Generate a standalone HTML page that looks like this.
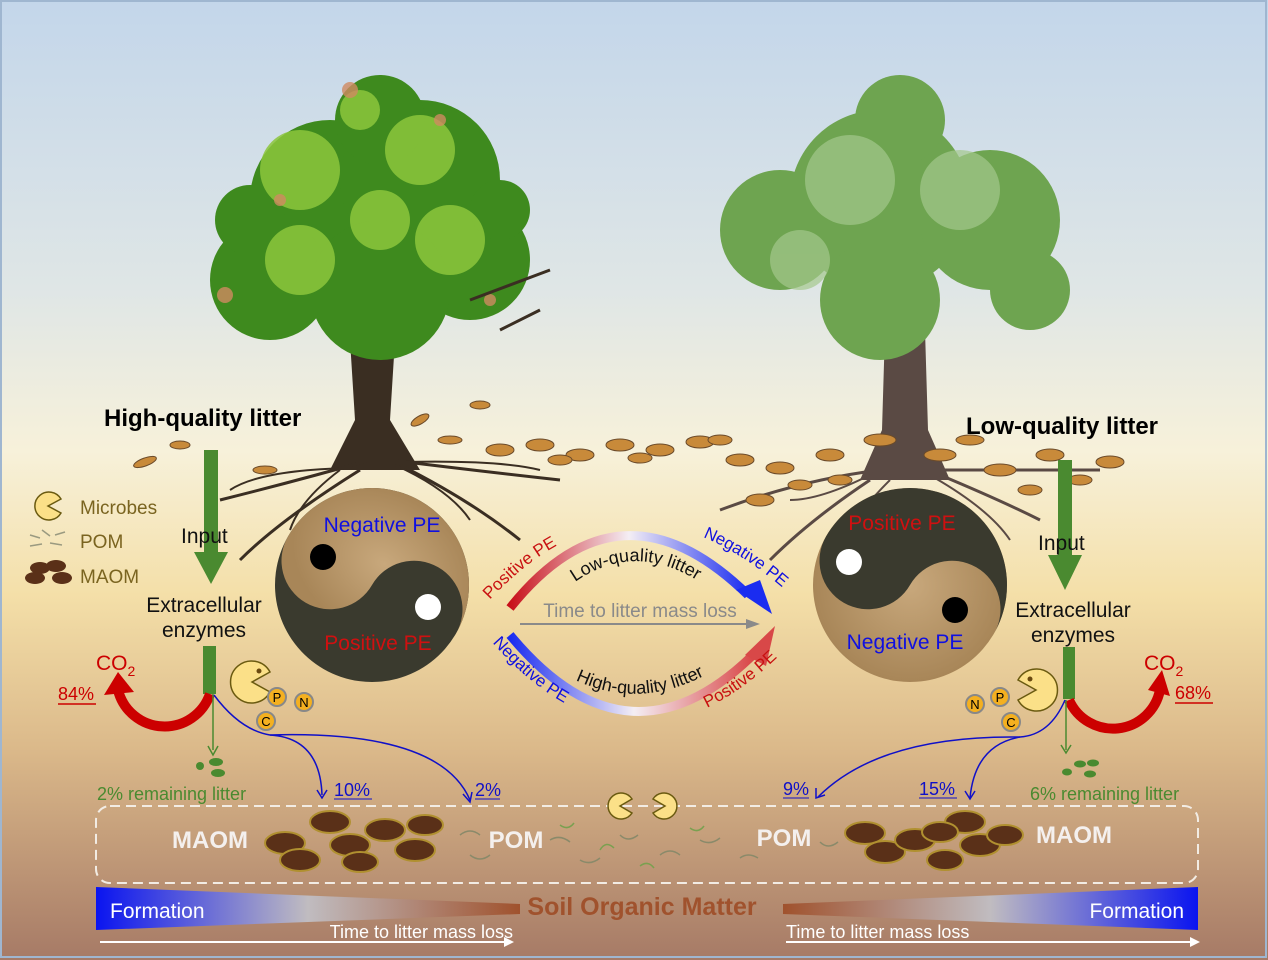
<!DOCTYPE html>
<html><head><meta charset="utf-8"><style>
html,body{margin:0;padding:0;background:#fff}
svg{display:block}
text{font-family:"Liberation Sans",sans-serif}
</style></head><body>
<svg width="1268" height="960" viewBox="0 0 1268 960" xmlns="http://www.w3.org/2000/svg">
<defs>
<linearGradient id="bg" x1="0" y1="0" x2="0" y2="1">
<stop offset="0" stop-color="#c3d6ea"/>
<stop offset="0.3" stop-color="#dfe6e6"/>
<stop offset="0.47" stop-color="#f7f1da"/>
<stop offset="0.62" stop-color="#f4dfa8"/>
<stop offset="0.78" stop-color="#dbb98a"/>
<stop offset="1" stop-color="#a67a66"/>
</linearGradient>
<linearGradient id="wl" x1="0" x2="1"><stop offset="0" stop-color="#0a14f0"/><stop offset="0.5" stop-color="#c0bcc0"/><stop offset="1" stop-color="#a0522d"/></linearGradient>
<linearGradient id="wr" x1="1" x2="0"><stop offset="0" stop-color="#0a14f0"/><stop offset="0.5" stop-color="#c0bcc0"/><stop offset="1" stop-color="#a0522d"/></linearGradient>
<linearGradient id="arcT" x1="0" x2="1"><stop offset="0" stop-color="#c8101a"/><stop offset="0.5" stop-color="#f4eef4"/><stop offset="1" stop-color="#1a2cf0"/></linearGradient>
<linearGradient id="arcB" x1="0" x2="1"><stop offset="0" stop-color="#1a2cf0"/><stop offset="0.5" stop-color="#f4eef4"/><stop offset="1" stop-color="#d84040"/></linearGradient>
<radialGradient id="tan"><stop offset="0" stop-color="#c8a87c"/><stop offset="1" stop-color="#a88658"/></radialGradient>
<path id="tOut" d="M485 605 Q625 450 785 590"/>
<path id="tIn" d="M535 620 Q630 505 740 615"/>
<path id="bOut" d="M490 640 Q630 800 780 655"/>
<path id="bIn" d="M530 650 Q635 740 750 645"/>
</defs>
<rect width="1268" height="960" fill="url(#bg)"/>
<rect x="1" y="1" width="1265" height="956" fill="none" stroke="#9fb6d0" stroke-width="2"/>

<!-- LEFT TREE -->
<g>
<path d="M350 340 L395 340 L390 420 L420 470 L330 470 L355 420 Z" fill="#3a2e22"/>
<g fill="#3e8a1e">
<circle cx="330" cy="200" r="80"/><circle cx="420" cy="180" r="80"/><circle cx="380" cy="120" r="45"/>
<circle cx="270" cy="280" r="60"/><circle cx="470" cy="260" r="60"/><circle cx="380" cy="290" r="70"/>
<circle cx="250" cy="220" r="35"/><circle cx="500" cy="210" r="30"/>
</g>
<g fill="#8cc63c" opacity="0.85">
<circle cx="300" cy="170" r="40"/><circle cx="420" cy="150" r="35"/><circle cx="450" cy="240" r="35"/>
<circle cx="300" cy="260" r="35"/><circle cx="380" cy="220" r="30"/><circle cx="360" cy="110" r="20"/>
</g>
<g fill="#d08a60" opacity="0.8">
<circle cx="350" cy="90" r="8"/><circle cx="225" cy="295" r="8"/><circle cx="440" cy="120" r="6"/><circle cx="490" cy="300" r="6"/><circle cx="280" cy="200" r="6"/>
</g>
<g stroke="#3a2e22" stroke-width="3" fill="none">
<path d="M470 300 L550 270"/><path d="M500 330 L540 310"/>
<path d="M370 460 Q300 480 220 500 M360 470 Q280 520 240 560 M390 460 Q470 470 560 480 M400 465 Q470 500 520 540"/>
<path d="M340 470 Q300 500 290 530 M350 468 Q260 470 230 490 M395 465 Q450 490 470 520 M405 462 Q500 460 540 470" stroke-width="2"/>
</g>
</g>

<!-- RIGHT TREE -->
<g>
<path d="M885 330 L925 330 L928 430 L950 480 L860 480 L882 430 Z" fill="#5a4a44"/>
<g fill="#6ea450">
<circle cx="880" cy="200" r="90"/><circle cx="780" cy="230" r="60"/><circle cx="990" cy="220" r="70"/>
<circle cx="900" cy="120" r="45"/><circle cx="880" cy="300" r="60"/><circle cx="1030" cy="290" r="40"/>
</g>
<g fill="#a4c88c" opacity="0.7">
<circle cx="850" cy="180" r="45"/><circle cx="960" cy="190" r="40"/><circle cx="800" cy="260" r="30"/>
</g>
<g stroke="#5a4a44" stroke-width="3" fill="none">
<path d="M880 470 Q800 480 720 510 M870 480 Q810 520 770 560 M930 470 Q1010 470 1100 470 M940 475 Q1000 500 1040 520"/>
<path d="M870 475 Q820 500 790 500 M935 478 Q990 510 1010 540 M890 480 Q860 510 850 530" stroke-width="2"/>
</g>
</g>

<!-- ground leaves -->
<g fill="#c88a3a" stroke="#6a4a2a" stroke-width="1">
<ellipse cx="420" cy="420" rx="10" ry="4" transform="rotate(-30 420 420)"/><ellipse cx="450" cy="440" rx="12" ry="4"/><ellipse cx="480" cy="405" rx="10" ry="4"/>
<ellipse cx="145" cy="462" rx="12" ry="4" transform="rotate(-20 145 462)"/><ellipse cx="180" cy="445" rx="10" ry="4"/><ellipse cx="265" cy="470" rx="12" ry="4"/>
<ellipse cx="500" cy="450" rx="14" ry="6"/><ellipse cx="540" cy="445" rx="14" ry="6"/><ellipse cx="580" cy="455" rx="14" ry="6"/>
<ellipse cx="620" cy="445" rx="14" ry="6"/><ellipse cx="660" cy="450" rx="14" ry="6"/><ellipse cx="700" cy="442" rx="14" ry="6"/>
<ellipse cx="740" cy="460" rx="14" ry="6"/><ellipse cx="780" cy="468" rx="14" ry="6"/><ellipse cx="830" cy="455" rx="14" ry="6"/>
<ellipse cx="880" cy="440" rx="16" ry="6"/><ellipse cx="940" cy="455" rx="16" ry="6"/><ellipse cx="1000" cy="470" rx="16" ry="6"/>
<ellipse cx="1050" cy="455" rx="14" ry="6"/><ellipse cx="1110" cy="462" rx="14" ry="6"/><ellipse cx="760" cy="500" rx="14" ry="6"/>
<ellipse cx="560" cy="460" rx="12" ry="5"/><ellipse cx="640" cy="458" rx="12" ry="5"/><ellipse cx="720" cy="440" rx="12" ry="5"/><ellipse cx="800" cy="485" rx="12" ry="5"/>
<ellipse cx="970" cy="440" rx="14" ry="5"/><ellipse cx="1080" cy="480" rx="12" ry="5"/><ellipse cx="1030" cy="490" rx="12" ry="5"/><ellipse cx="840" cy="480" rx="12" ry="5"/>
</g>

<!-- yin yang left -->
<g transform="rotate(30 372 585)">
<circle cx="372" cy="585" r="97" fill="#3a3a2e"/>
<path d="M275 585 A97 97 0 0 1 469 585 A48.5 48.5 0 0 0 372 585 A48.5 48.5 0 0 1 275 585 Z" fill="url(#tan)"/>
</g>
<circle cx="323" cy="557" r="13" fill="#000"/>
<circle cx="428" cy="607" r="13" fill="#fff"/>
<text x="382" y="532" font-size="21" fill="#1010e0" text-anchor="middle">Negative PE</text>
<text x="378" y="650" font-size="21" fill="#d01010" text-anchor="middle">Positive PE</text>

<!-- yin yang right -->
<g transform="rotate(30 910 585)">
<circle cx="910" cy="585" r="97" fill="url(#tan)"/>
<path d="M813 585 A97 97 0 0 1 1007 585 A48.5 48.5 0 0 0 910 585 A48.5 48.5 0 0 1 813 585 Z" fill="#3a3a2e"/>
</g>
<circle cx="849" cy="562" r="13" fill="#fff"/>
<circle cx="955" cy="610" r="13" fill="#000"/>
<text x="902" y="530" font-size="21" fill="#d01010" text-anchor="middle">Positive PE</text>
<text x="905" y="649" font-size="21" fill="#1010e0" text-anchor="middle">Negative PE</text>

<!-- central arcs -->
<path d="M510 608 Q620 470 748 595" stroke="url(#arcT)" stroke-width="9" fill="none"/>
<path d="M736 590 L772 614 L760 580 Z" fill="#1a2cf0"/>
<path d="M510 635 Q630 780 758 650" stroke="url(#arcB)" stroke-width="9" fill="none"/>
<path d="M745 655 L775 626 L766 666 Z" fill="#d84848"/>
<line x1="520" y1="624" x2="752" y2="624" stroke="#8a8a8a" stroke-width="2"/>
<path d="M746 619 L760 624 L746 629 Z" fill="#8a8a8a"/>
<text x="640" y="617" font-size="19" fill="#8a8a8a" text-anchor="middle">Time to litter mass loss</text>
<text font-size="18" fill="#111"><textPath href="#tIn" startOffset="50%" text-anchor="middle">Low-quality  litter</textPath></text>
<text font-size="18" fill="#111"><textPath href="#bIn" startOffset="50%" text-anchor="middle">High-quality litter</textPath></text>
<text font-size="17" fill="#c81010"><textPath href="#tOut" startOffset="2%">Positive PE</textPath></text>
<text font-size="17" fill="#1010e0"><textPath href="#tOut" startOffset="99%" text-anchor="end">Negative PE</textPath></text>
<text font-size="17" fill="#1010e0"><textPath href="#bOut" startOffset="1%">Negative PE</textPath></text>
<text font-size="17" fill="#c81010"><textPath href="#bOut" startOffset="99%" text-anchor="end">Positive PE</textPath></text>

<!-- left labels -->
<text x="104" y="426" font-size="24" font-weight="bold" fill="#000">High-quality litter</text>
<rect x="204" y="450" width="14" height="110" fill="#4a8a30"/>
<path d="M194 552 L228 552 L211 584 Z" fill="#4a8a30"/>
<text x="181" y="543" font-size="21" fill="#111">Input</text>
<text x="204" y="612" font-size="21" fill="#111" text-anchor="middle">Extracellular</text>
<text x="204" y="637" font-size="21" fill="#111" text-anchor="middle">enzymes</text>
<rect x="203" y="646" width="13" height="48" fill="#4a8a30"/>
<path d="M210 694 A48 48 0 0 1 118 690" stroke="#c00" stroke-width="10" fill="none"/>
<path d="M104 695 L118 672 L134 692 Z" fill="#c00"/>
<text x="96" y="670" font-size="21" fill="#c00">CO<tspan font-size="14" dy="6">2</tspan></text>
<text x="58" y="700" font-size="18" fill="#c00">84%</text>
<line x1="58" y1="704" x2="96" y2="704" stroke="#c00" stroke-width="1.5"/>
<line x1="213" y1="694" x2="213" y2="750" stroke="#4a8a30" stroke-width="1.5"/>
<path d="M208 746 L213 755 L218 746" stroke="#4a8a30" fill="none" stroke-width="1.5"/>
<ellipse cx="200" cy="766" rx="4" ry="4" fill="#4a8a30"/><ellipse cx="216" cy="762" rx="7" ry="4" fill="#4a8a30"/><ellipse cx="218" cy="773" rx="7" ry="4" fill="#4a8a30"/>
<text x="97" y="800" font-size="18" fill="#4a8a30">2% remaining litter</text>
<path d="M214 695 Q240 730 270 735 Q320 738 322 795" stroke="#1010c8" stroke-width="1.5" fill="none"/>
<path d="M270 735 Q440 730 470 800" stroke="#1010c8" stroke-width="1.5" fill="none"/>
<path d="M317 790 L322 798 L327 790" stroke="#1010c8" fill="none" stroke-width="1.5"/>
<path d="M463 794 L470 802 L472 792" stroke="#1010c8" fill="none" stroke-width="1.5"/>
<text x="334" y="796" font-size="18" fill="#1010c8">10%</text>
<line x1="334" y1="799" x2="372" y2="799" stroke="#1010c8"/>
<text x="475" y="796" font-size="18" fill="#1010c8">2%</text>
<line x1="475" y1="799" x2="500" y2="799" stroke="#1010c8"/>

<!-- pacman left -->
<path d="M252 682 L270 672 A21 21 0 1 0 270 692 Z" fill="#fbe088" stroke="#6a5a10" stroke-width="1.5"/>
<circle cx="259" cy="671" r="2.5" fill="#6a4a10"/>
<g font-size="13" text-anchor="middle" fill="#000">
<circle cx="277" cy="697" r="9" fill="#f4b020" stroke="#888" stroke-width="2"/><text x="277" y="702">P</text>
<circle cx="304" cy="702" r="9" fill="#f4b020" stroke="#888" stroke-width="2"/><text x="304" y="707">N</text>
<circle cx="266" cy="721" r="9" fill="#f4b020" stroke="#888" stroke-width="2"/><text x="266" y="726">C</text>
</g>

<!-- legend -->
<path d="M48 506 L61 499 A14 14 0 1 0 61 513 Z" fill="#fbe088" stroke="#6a5a10" stroke-width="1.5"/>
<text x="80" y="514" font-size="19" fill="#7a6420">Microbes</text>
<g stroke="#9a9a80" stroke-width="1.5"><path d="M30 535 l10 3 M42 530 l8 6 M30 546 l12 -2 M50 543 l12 2 M55 535 l10 -3"/></g>
<text x="80" y="548" font-size="19" fill="#7a6420">POM</text>
<g fill="#5a3018"><ellipse cx="40" cy="568" rx="10" ry="6"/><ellipse cx="56" cy="566" rx="10" ry="6"/><ellipse cx="35" cy="578" rx="10" ry="6"/><ellipse cx="62" cy="578" rx="10" ry="6"/></g>
<text x="80" y="583" font-size="19" fill="#7a6420">MAOM</text>

<!-- right labels -->
<text x="966" y="434" font-size="24" font-weight="bold" fill="#000">Low-quality litter</text>
<rect x="1058" y="460" width="14" height="100" fill="#4a8a30"/>
<path d="M1048 555 L1082 555 L1065 590 Z" fill="#4a8a30"/>
<text x="1038" y="550" font-size="21" fill="#111">Input</text>
<text x="1073" y="617" font-size="21" fill="#111" text-anchor="middle">Extracellular</text>
<text x="1073" y="642" font-size="21" fill="#111" text-anchor="middle">enzymes</text>
<rect x="1063" y="647" width="12" height="52" fill="#4a8a30"/>
<path d="M1069 700 A48 48 0 0 0 1160 690" stroke="#c00" stroke-width="10" fill="none"/>
<path d="M1148 690 L1162 670 L1170 696 Z" fill="#c00"/>
<text x="1144" y="670" font-size="21" fill="#c00">CO<tspan font-size="14" dy="6">2</tspan></text>
<text x="1175" y="699" font-size="18" fill="#c00">68%</text>
<line x1="1175" y1="703" x2="1213" y2="703" stroke="#c00" stroke-width="1.5"/>
<line x1="1066" y1="700" x2="1066" y2="750" stroke="#4a8a30" stroke-width="1.5"/>
<path d="M1061 745 L1066 753 L1071 745" stroke="#4a8a30" fill="none" stroke-width="1.5"/>
<ellipse cx="1067" cy="772" rx="5" ry="3.5" fill="#4a8a30"/><ellipse cx="1080" cy="764" rx="6" ry="3.5" fill="#4a8a30"/><ellipse cx="1093" cy="763" rx="6" ry="3.5" fill="#4a8a30"/><ellipse cx="1090" cy="774" rx="6" ry="3.5" fill="#4a8a30"/>
<text x="1030" y="800" font-size="18" fill="#4a8a30">6% remaining litter</text>
<path d="M1065 700 Q1050 735 1020 737 Q880 735 818 797" stroke="#1010c8" stroke-width="1.5" fill="none"/>
<path d="M1020 737 Q975 745 970 798" stroke="#1010c8" stroke-width="1.5" fill="none"/>
<path d="M816 788 L816 798 L825 795" stroke="#1010c8" fill="none" stroke-width="1.5"/>
<path d="M965 791 L970 799 L975 791" stroke="#1010c8" fill="none" stroke-width="1.5"/>
<text x="783" y="795" font-size="18" fill="#1010c8">9%</text>
<line x1="783" y1="798" x2="809" y2="798" stroke="#1010c8"/>
<text x="919" y="795" font-size="18" fill="#1010c8">15%</text>
<line x1="919" y1="798" x2="957" y2="798" stroke="#1010c8"/>
<path d="M1036 690 L1018 680 A21 21 0 1 1 1018 700 Z" fill="#fbe088" stroke="#6a5a10" stroke-width="1.5"/>
<circle cx="1030" cy="679" r="2.5" fill="#6a4a10"/>
<g font-size="13" text-anchor="middle" fill="#000">
<circle cx="1000" cy="697" r="9" fill="#f4b020" stroke="#888" stroke-width="2"/><text x="1000" y="702">P</text>
<circle cx="975" cy="704" r="9" fill="#f4b020" stroke="#888" stroke-width="2"/><text x="975" y="709">N</text>
<circle cx="1011" cy="722" r="9" fill="#f4b020" stroke="#888" stroke-width="2"/><text x="1011" y="727">C</text>
</g>

<!-- SOM box -->
<rect x="96" y="806" width="1102" height="77" rx="14" fill="none" stroke="#f2ece4" stroke-width="2" stroke-dasharray="10 6"/>
<g fill="#5a3018" stroke="#b09030" stroke-width="2">
<ellipse cx="285" cy="843" rx="20" ry="11"/><ellipse cx="300" cy="860" rx="20" ry="11"/><ellipse cx="330" cy="822" rx="20" ry="11"/><ellipse cx="350" cy="845" rx="20" ry="11"/>
<ellipse cx="385" cy="830" rx="20" ry="11"/><ellipse cx="415" cy="850" rx="20" ry="11"/><ellipse cx="360" cy="862" rx="18" ry="10"/><ellipse cx="425" cy="825" rx="18" ry="10"/>
<ellipse cx="865" cy="833" rx="20" ry="11"/><ellipse cx="885" cy="852" rx="20" ry="11"/><ellipse cx="915" cy="840" rx="20" ry="11"/><ellipse cx="945" cy="860" rx="18" ry="10"/>
<ellipse cx="965" cy="822" rx="20" ry="11"/><ellipse cx="980" cy="845" rx="20" ry="11"/><ellipse cx="1005" cy="835" rx="18" ry="10"/><ellipse cx="940" cy="832" rx="18" ry="10"/>
</g>
<g stroke="#8a8a6a" stroke-width="1.5" fill="none">
<path d="M460 835 q10 -8 20 0 M470 855 q10 8 20 0 M550 840 q10 -6 20 2 M580 860 q10 6 20 -2 M620 835 q8 8 18 0 M660 855 q10 -8 20 0 M700 840 q10 6 20 -2 M740 858 q8 -6 18 0 M820 842 q8 8 18 0"/>
<path d="M600 850 q6 -10 14 -2 M640 866 q8 -6 14 2 M690 828 q8 6 14 -2 M560 825 q8 6 14 -2" stroke="#7aa050"/>
</g>
<text x="210" y="848" font-size="24" font-weight="bold" fill="#f4f0ee" text-anchor="middle">MAOM</text>
<text x="516" y="848" font-size="24" font-weight="bold" fill="#f4f0ee" text-anchor="middle">POM</text>
<text x="784" y="846" font-size="24" font-weight="bold" fill="#f4f0ee" text-anchor="middle">POM</text>
<text x="1074" y="843" font-size="24" font-weight="bold" fill="#f4f0ee" text-anchor="middle">MAOM</text>
<path d="M620 806 L632 799 A13 13 0 1 0 632 813 Z" fill="#fbe088" stroke="#6a5a10" stroke-width="1.5"/>
<path d="M665 806 L653 799 A13 13 0 1 1 653 813 Z" fill="#fbe088" stroke="#6a5a10" stroke-width="1.5"/>

<!-- wedges -->
<path d="M96 887 L520 904 L520 914 L96 930 Z" fill="url(#wl)"/>
<path d="M1198 887 L783 904 L783 914 L1198 930 Z" fill="url(#wr)"/>
<text x="110" y="918" font-size="21" fill="#fff">Formation</text>
<text x="1184" y="918" font-size="21" fill="#fff" text-anchor="end">Formation</text>
<text x="642" y="915" font-size="25" font-weight="bold" fill="#a0522d" text-anchor="middle">Soil Organic Matter</text>
<line x1="100" y1="942" x2="508" y2="942" stroke="#fff" stroke-width="2"/>
<path d="M504 937 L514 942 L504 947 Z" fill="#fff"/>
<text x="513" y="938" font-size="18" fill="#fff" text-anchor="end">Time to litter mass loss</text>
<line x1="786" y1="942" x2="1194" y2="942" stroke="#fff" stroke-width="2"/>
<path d="M1190 937 L1200 942 L1190 947 Z" fill="#fff"/>
<text x="786" y="938" font-size="18" fill="#fff">Time to litter mass loss</text>
</svg>
</body></html>
